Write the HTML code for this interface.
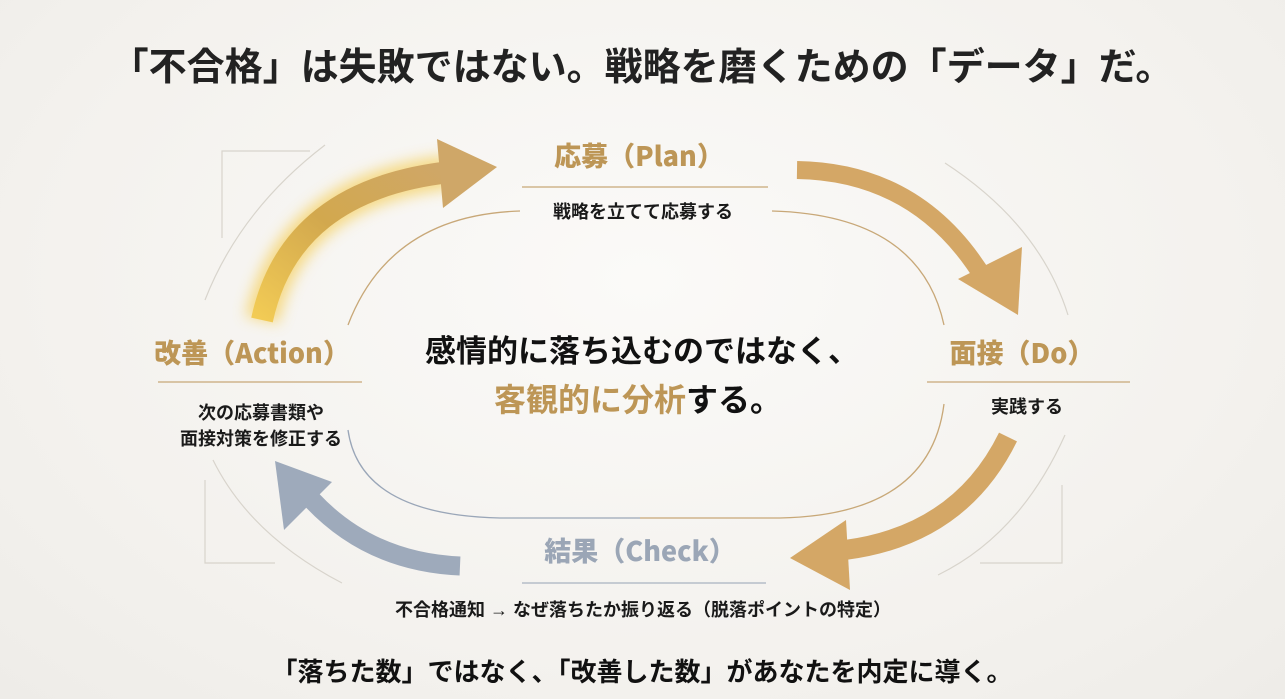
<!DOCTYPE html>
<html><head><meta charset="utf-8"><style>
html,body{margin:0;padding:0}
body{width:1285px;height:699px;overflow:hidden;position:relative;background:radial-gradient(ellipse at 50% 40%,#fbfaf8 0%,#f3f1ed 70%,#eeece8 100%);font-family:"Liberation Sans","Noto Sans CJK JP",sans-serif;font-weight:bold;}
.t{position:absolute;white-space:nowrap;text-align:center;transform:translateX(-50%);line-height:1}
.gold{color:#bd9656}
.gray{color:#9ba6b6}
.lab{font-family:"Noto Sans CJK JP",sans-serif;font-size:27px;font-weight:900}
.sub{font-size:18px;color:#1a1a1a}
</style></head><body>
<svg width="1285" height="699" style="position:absolute;left:0;top:0">
<defs>
<filter id="glow" x="-50%" y="-50%" width="200%" height="200%"><feGaussianBlur stdDeviation="7"/></filter>
<linearGradient id="ga" x1="0" y1="1" x2="1" y2="0"><stop offset="0" stop-color="#f2cb55"/><stop offset="0.5" stop-color="#d2a84e"/><stop offset="1" stop-color="#cfa768"/></linearGradient>
</defs>
<g fill="none" stroke="#d8d4cc" stroke-width="1.2">
<path d="M222 238 V151 H310"/>
<path d="M325 145 Q240 210 205 300"/>
<path d="M1062 485 V563 H980"/>
<path d="M1065 435 Q1020 535 938 575"/>
<path d="M945 163 Q1040 225 1068 315"/>
<path d="M205 480 V563 H275"/>
<path d="M213 460 Q250 535 342 583"/>
</g>
<g fill="none" stroke-width="1.3">
<path d="M520 211 Q390 215 348 325" stroke="#c8a878"/>
<path d="M772 211 Q920 215 944 325" stroke="#c8a878"/>
<path d="M944 404 Q930 515 780 518 H640" stroke="#c8a878"/>
<path d="M640 518 H500 Q360 515 348 430" stroke="#9aa6b8"/>
</g>
<g filter="url(#glow)" opacity="0.75">
<path d="M262 320 Q290 190 450 172" fill="none" stroke="#f5d060" stroke-width="34"/>
</g>
<path d="M262 320 Q290 190 450 172" fill="none" stroke="url(#ga)" stroke-width="22"/>
<polygon points="437,139 497,167 443,208" fill="#cfa768"/>
<path d="M797 170 Q920 172 985 280" fill="none" stroke="#d4a766" stroke-width="18"/>
<polygon points="958,279 1022,247 1018,315" fill="#d4a766"/>
<path d="M1008 437 Q960 535 845 550" fill="none" stroke="#d4a766" stroke-width="20"/>
<polygon points="846,520 790,558 850,590" fill="#d4a766"/>
<path d="M460 566 Q370 562 312 500" fill="none" stroke="#9eaabb" stroke-width="19"/>
<polygon points="275,461 332,482 284,530" fill="#9eaabb"/>
<g stroke-width="1.3">
<line x1="522" y1="187" x2="768" y2="187" stroke="#c8a878"/>
<line x1="158" y1="382" x2="362" y2="382" stroke="#c8a878"/>
<line x1="927" y1="382" x2="1130" y2="382" stroke="#c8a878"/>
<line x1="522" y1="583" x2="766" y2="583" stroke="#a9b2c0"/>
</g>
</svg>
<div class="t" style="left:642px;top:49px;font-size:38px;color:#222">「不合格」は失敗ではない。戦略を磨くための「データ」だ。</div>
<div class="t gold lab" style="left:639px;top:141px">応募（Plan）</div>
<div class="t sub" style="left:643px;top:203px">戦略を立てて応募する</div>
<div class="t gold lab" style="left:252px;top:338px">改善（Action）</div>
<div class="t sub" style="left:261px;top:400px;line-height:26px">次の応募書類や<br>面接対策を修正する</div>
<div class="t gold lab" style="left:1022px;top:338px">面接（Do）</div>
<div class="t sub" style="left:1027px;top:398px">実践する</div>
<div class="t gray lab" style="left:640px;top:536px">結果（Check）</div>
<div class="t sub" style="left:643px;top:601px">不合格通知 → なぜ落ちたか振り返る（脱落ポイントの特定）</div>
<div class="t" style="left:642px;top:336px;font-size:31px;color:#111">感情的に落ち込むのではなく、</div>
<div class="t" style="left:638px;top:384px;font-size:32px;color:#111"><span class="gold">客観的に分析</span>する。</div>
<div class="t" style="left:642px;top:659px;font-size:26px;color:#111">「落ちた数」ではなく、「改善した数」があなたを内定に導く。</div>
</body></html>
